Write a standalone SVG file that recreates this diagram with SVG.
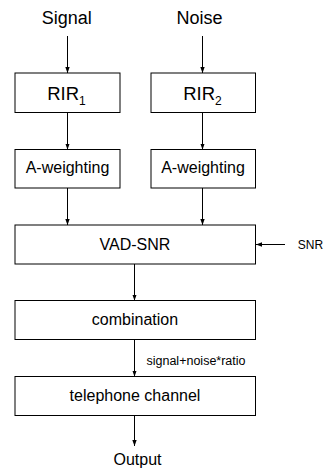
<svg xmlns="http://www.w3.org/2000/svg" width="326" height="468" viewBox="0 0 326 468">
<defs>
<marker id="ah" markerUnits="userSpaceOnUse" markerWidth="6" markerHeight="6" viewBox="0 0 6 6" refX="6" refY="3" orient="auto">
<path d="M0,0.8 L6,3 L0,5.2 Z" fill="#000"/>
</marker>
<style>
.box{fill:#fff;stroke:#000;stroke-width:1}
.t{font-family:"Liberation Sans",Arial,sans-serif;fill:#000;text-anchor:middle}
.c{stroke:#000;stroke-width:1;fill:none;marker-end:url(#ah)}
</style>
</defs>
<rect width="326" height="468" fill="#fff"/>
<g id="connectors">
<line class="c" x1="67.5" y1="36" x2="67.5" y2="73"/>
<line class="c" x1="202.5" y1="36" x2="202.5" y2="73"/>
<line class="c" x1="67.5" y1="112.5" x2="67.5" y2="149.5"/>
<line class="c" x1="202.5" y1="112.5" x2="202.5" y2="149.5"/>
<line class="c" x1="67.5" y1="188" x2="67.5" y2="225"/>
<line class="c" x1="202.5" y1="188" x2="202.5" y2="225"/>
<line class="c" x1="285" y1="244.5" x2="256" y2="244.5"/>
<line class="c" x1="134.5" y1="264" x2="134.5" y2="300.5"/>
<line class="c" x1="134.5" y1="339.5" x2="134.5" y2="376.5"/>
<line class="c" x1="134.5" y1="415.5" x2="134.5" y2="446"/>
<text class="t" x="196" y="365" font-size="12.5">signal+noise*ratio</text>
</g>
<g id="signal"><text class="t" x="66.7" y="24" font-size="18">Signal</text></g>
<g id="noise"><text class="t" x="199.5" y="24" font-size="18">Noise</text></g>
<g id="rir1"><rect class="box" x="15" y="73" width="105" height="39.5"/><text class="t" x="66.5" y="99.5" font-size="18.5">RIR<tspan font-size="12" dy="5">1</tspan></text></g>
<g id="rir2"><rect class="box" x="151" y="73" width="104.5" height="39.5"/><text class="t" x="202.5" y="99.5" font-size="18.5">RIR<tspan font-size="12" dy="5">2</tspan></text></g>
<g id="aw1"><rect class="box" x="15" y="149.5" width="105" height="38.5"/><text class="t" x="67.5" y="173" font-size="16">A-weighting</text></g>
<g id="aw2"><rect class="box" x="151" y="149.5" width="104.5" height="38.5"/><text class="t" x="203" y="173" font-size="16">A-weighting</text></g>
<g id="vad"><rect class="box" x="15" y="225" width="240.5" height="39"/><text class="t" x="135" y="250" font-size="16">VAD-SNR</text></g>
<g id="snr"><text class="t" x="310.5" y="248.5" font-size="12">SNR</text></g>
<g id="comb"><rect class="box" x="15" y="300.5" width="240.5" height="39"/><text class="t" x="135" y="325" font-size="16">combination</text></g>
<g id="tel"><rect class="box" x="15" y="376.5" width="240.5" height="39"/><text class="t" x="135" y="401" font-size="16">telephone channel</text></g>
<g id="output"><text class="t" x="137.5" y="465" font-size="16">Output</text></g>
</svg>
